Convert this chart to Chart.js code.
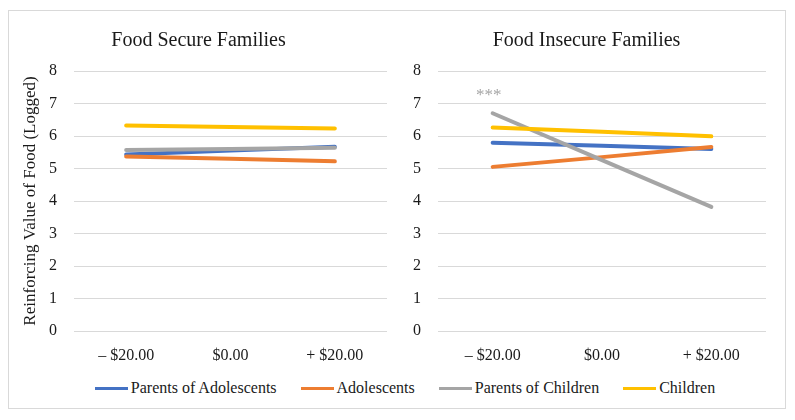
<!DOCTYPE html>
<html>
<head>
<meta charset="utf-8">
<script src="https://cdn.jsdelivr.net/npm/chart.js@4"></script>
<style>
  body { margin: 0; background: #fff; }
  #wrap { position: relative; width: 795px; height: 420px; }
  #frame { position: absolute; left: 8px; top: 10px; width: 776px; height: 397px; border: 1px solid #d9d9d9; }
  #c1 { position: absolute; left: 0; top: 0; }
  #c2 { position: absolute; left: 397px; top: 0; }
  #legend { position: absolute; left: 0; width: 810px; top: 379px; display: flex; justify-content: center; gap: 24px;
            font-family: 'Liberation Serif', serif; font-size: 16px; color: #1a1a1a; }
  #legend .item { display: flex; align-items: center; }
  #legend .swatch { width: 33px; height: 3px; margin-right: 3px; }
</style>
</head>
<body>
<div id="wrap">
  <div id="frame"></div>
  <canvas id="c1" width="397" height="375"></canvas>
  <canvas id="c2" width="398" height="375"></canvas>
  <div id="legend"></div>
</div>
<script>
var categories = ['\u2013 $20.00', '$0.00', '+ $20.00'];
var seriesNames = ['Parents of Adolescents', 'Adolescents', 'Parents of Children', 'Children'];
var seriesColors = ['#4472C4', '#ED7D31', '#A5A5A5', '#FFC000'];

// Food secure families
var secureParentsAdol = [5.43, 5.55, 5.67];
var secureAdol = [5.37, 5.30, 5.22];
var secureParentsChild = [5.57, 5.60, 5.64];
var secureChildren = [6.32, 6.28, 6.23];

// Food insecure families
var insecureParentsAdol = [5.79, 5.70, 5.60];
var insecureAdol = [5.05, 5.35, 5.66];
var insecureParentsChild = [6.70, 5.26, 3.82];
var insecureChildren = [6.26, 6.13, 5.99];

var yTicks = [0, 1, 2, 3, 4, 5, 6, 7, 8];

var FONT = '"Liberation Serif", serif';
var TEXT = '#1a1a1a';

function makeSets(values) {
  return values.map(function (v, i) {
    return {
      label: seriesNames[i],
      data: v,
      borderColor: seriesColors[i],
      backgroundColor: seriesColors[i],
      borderWidth: 4,
      borderCapStyle: 'round',
      pointRadius: 0,
      tension: 0,
      order: values.length - i
    };
  });
}

// star label above the parents of children line
const starPlugin = {
  id: 'stars',
  afterDatasetsDraw(chart, args, opts) {
    if (!opts.show) return;
    const ctx = chart.ctx;
    const x = chart.scales.x.getPixelForValue(0) - 4;
    const y = chart.scales.y.getPixelForValue(insecureParentsChild[0]) - 9;
    ctx.save();
    ctx.fillStyle = '#A5A5A5';
    ctx.font = '17px ' + FONT;
    ctx.textAlign = 'center';
    ctx.textBaseline = 'bottom';
    ctx.fillText('***', x, y);
    ctx.restore();
  }
};

function makeChart(id, title, values, withYTitle, pad, yWidth, stars) {
  return new Chart(document.getElementById(id), {
    type: 'line',
    data: { labels: categories, datasets: makeSets(values) },
    plugins: [starPlugin],
    options: {
      responsive: false,
      animation: false,
      layout: { padding: pad },
      plugins: {
        legend: { display: false },
        tooltip: { enabled: false },
        stars: { show: stars },
        title: {
          display: true,
          text: title,
          color: TEXT,
          font: { family: FONT, size: 20, weight: 'normal' },
          padding: { top: 0, bottom: 18 }
        }
      },
      scales: {
        x: {
          offset: true,
          grid: { display: false, drawTicks: false },
          border: { display: false },
          ticks: { color: TEXT, font: { family: FONT, size: 16 }, padding: 15, maxRotation: 0 },
          afterFit: function (s) { s.height = 44; }
        },
        y: {
          min: 0,
          max: 8,
          afterBuildTicks: function (s) { s.ticks = yTicks.map(function (v) { return { value: v }; }); },
          grid: { color: '#d9d9d9', lineWidth: 1, drawTicks: false },
          border: { display: false },
          ticks: { color: TEXT, font: { family: FONT, size: 16 }, padding: 17 },
          title: {
            display: withYTitle,
            text: 'Reinforcing Value of Food (Logged)',
            color: TEXT,
            font: { family: FONT, size: 17 },
            padding: { top: 10, bottom: 0 }
          },
          afterFit: function (s) { s.width = yWidth; }
        }
      }
    }
  });
}

makeChart('c1', 'Food Secure Families',
  [secureParentsAdol, secureAdol, secureParentsChild, secureChildren],
  true, { left: 10, right: 10, top: 29, bottom: 0 }, 64, false);

makeChart('c2', 'Food Insecure Families',
  [insecureParentsAdol, insecureAdol, insecureParentsChild, insecureChildren],
  false, { left: 10, right: 29, top: 29, bottom: 0 }, 31, true);

var legend = document.getElementById('legend');
seriesNames.forEach(function (name, i) {
  var item = document.createElement('div');
  item.className = 'item';
  var sw = document.createElement('span');
  sw.className = 'swatch';
  sw.style.background = seriesColors[i];
  var t = document.createElement('span');
  t.textContent = name;
  item.appendChild(sw);
  item.appendChild(t);
  legend.appendChild(item);
});
</script>
</body>
</html>
